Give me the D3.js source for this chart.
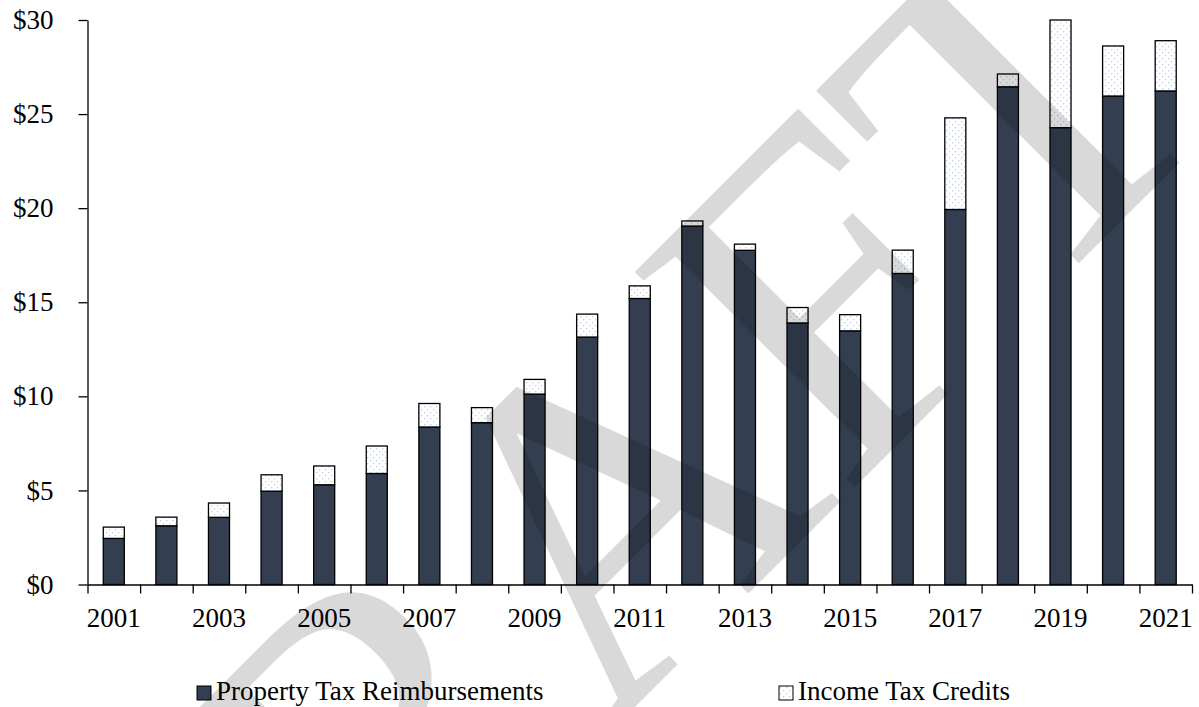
<html>
<head>
    <meta charset="utf-8">
    <style>
        body { margin: 0; background: #fff; }
        svg text { font-family: "Liberation Serif", "Times New Roman", serif; fill: #000; }
        .axis path, .axis line { stroke: #000; stroke-width: 1.3px; }
        .axis text { font-size: 27px; }
        .bar { stroke: #000; stroke-width: 1.3px; }
    </style>
    <script src="https://d3js.org/d3.v7.min.js"></script>
</head>
<body>
    <svg width="1199" height="707"></svg>
    <script>
        // chart data (billions of dollars)
        var years = [2001, 2002, 2003, 2004, 2005, 2006, 2007, 2008, 2009, 2010, 2011,
                     2012, 2013, 2014, 2015, 2016, 2017, 2018, 2019, 2020, 2021];
        var propertyTax = [2.45, 3.12, 3.57, 4.96, 5.3, 5.9, 8.37, 8.6, 10.12, 13.15, 15.2,
                           19.05, 17.76, 13.9, 13.48, 16.53, 19.93, 26.45, 24.28, 25.96, 26.23];
        var incomeTax = [0.6, 0.46, 0.76, 0.87, 1.0, 1.46, 1.25, 0.8, 0.78, 1.22, 0.67,
                         0.27, 0.33, 0.82, 0.86, 1.24, 4.87, 0.68, 5.72, 2.66, 2.67];
        var yTicks = [0, 5, 10, 15, 20, 25, 30];
        var seriesNames = ["Property Tax Reimbursements", "Income Tax Credits"];

        var g = {};
        g.svg = d3.select("svg");
        g.left = 87.5;
        g.right = 1192;
        g.top = 20;
        g.bottom = 584.5;

        // dotted fill used by the income tax credit segments
        var defs = g.svg.append("defs");
        var pat = defs.append("pattern")
            .attr("id", "dots")
            .attr("width", 6).attr("height", 6)
            .attr("patternUnits", "userSpaceOnUse");
        pat.append("rect").attr("width", 6).attr("height", 6).attr("fill", "#fff");
        pat.append("rect").attr("x", 1).attr("y", 1).attr("width", 1.3).attr("height", 1.3).attr("fill", "#c3cde6");
        pat.append("rect").attr("x", 4).attr("y", 4).attr("width", 1.3).attr("height", 1.3).attr("fill", "#c3cde6");

        var x = d3.scaleBand().domain(years).range([g.left, g.right]).paddingInner(0.6).paddingOuter(0.3);
        var xb = d3.scaleLinear().domain([0, years.length]).range([g.left, g.right]);
        var y = d3.scaleLinear().domain([0, 30]).range([g.bottom, g.top]);

        var rows = years.map(function (yr, i) {
            return { year: yr, property: propertyTax[i], income: incomeTax[i] };
        });
        var stacked = d3.stack().keys(["property", "income"])(rows);
        var fills = ["#333f50", "url(#dots)"];

        // bars
        stacked.forEach(function (layer, k) {
            g.svg.append("g").selectAll("rect")
                .data(layer)
                .enter().append("rect")
                    .attr("class", "bar")
                    .attr("x", function (d) { return x(d.data.year); })
                    .attr("y", function (d) { return y(d[1]); })
                    .attr("width", x.bandwidth())
                    .attr("height", function (d) { return y(d[0]) - y(d[1]); })
                    .attr("fill", fills[k]);
        });

        // y axis
        g.svg.append("g")
            .attr("class", "axis")
            .attr("transform", "translate(" + g.left + ",0)")
            .call(d3.axisLeft(y).tickValues(yTicks).tickSize(9).tickSizeOuter(0).tickPadding(25)
                .tickFormat(function (d) { return "$" + d; }));

        // x axis: labels on every other year, ticks between the bars
        g.svg.append("g")
            .attr("class", "axis")
            .attr("transform", "translate(0," + g.bottom + ")")
            .call(d3.axisBottom(x).tickSize(0).tickPadding(23)
                .tickFormat(function (d) { return d % 2 === 1 ? d : ""; }));
        var bt = g.svg.append("g")
            .attr("class", "axis")
            .attr("transform", "translate(0," + g.bottom + ")")
            .call(d3.axisBottom(xb).tickValues(d3.range(0, years.length + 1)).tickSize(9).tickFormat(""));
        bt.select(".domain").remove();

        // legend
        var legend = [
            { name: seriesNames[0], fill: fills[0], x: 197 },
            { name: seriesNames[1], fill: fills[1], x: 779 }
        ];
        var lg = g.svg.append("g").selectAll("g")
            .data(legend)
            .enter().append("g")
                .attr("transform", function (d) { return "translate(" + d.x + ",686)"; });
        lg.append("rect")
            .attr("width", 14).attr("height", 14)
            .attr("fill", function (d) { return d.fill; })
            .attr("stroke", "#000").attr("stroke-width", 1);
        lg.append("text")
            .attr("x", 19).attr("y", 14)
            .style("font-size", "27px")
            .text(function (d) { return d.name; });

        // watermark
        g.svg.append("text")
            .attr("transform", "translate(686,656) rotate(-45)")
            .attr("text-anchor", "middle")
            .style("font-size", "470px")
            .style("fill", "#000")
            .style("fill-opacity", 0.15)
            .text("DRAFT");
    </script>
</body>
</html>
